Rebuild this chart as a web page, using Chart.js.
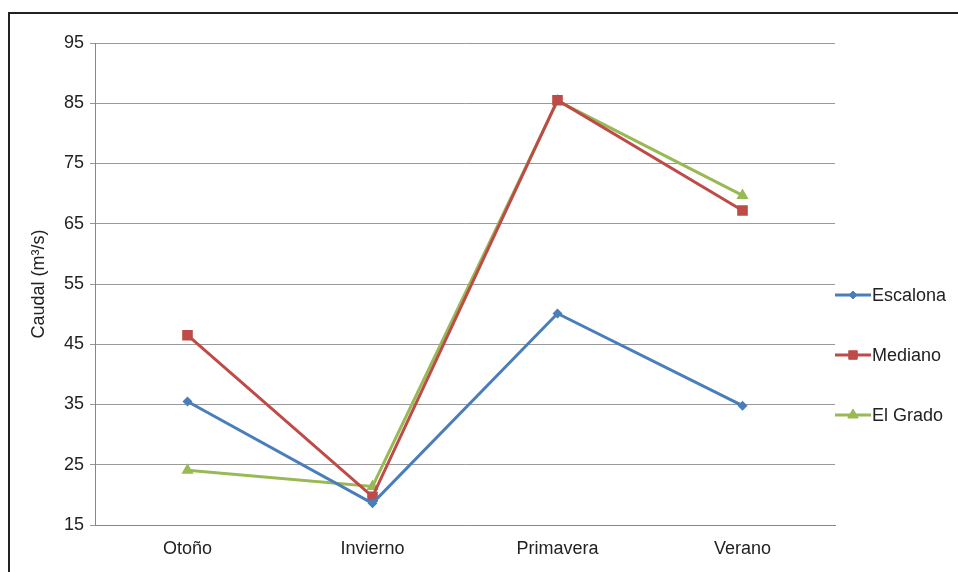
<!DOCTYPE html>
<html>
<head>
<meta charset="utf-8">
<script src="https://cdn.jsdelivr.net/npm/chart.js@4/dist/chart.umd.min.js"></script>
<style>
  html, body { margin: 0; padding: 0; background: #fff; }
  #wrap { position: relative; width: 958px; height: 572px; overflow: hidden; }
  #frame { position: absolute; left: 8px; top: 12px; width: 960px; height: 570px;
           border-left: 2px solid #222; border-top: 2px solid #222; box-sizing: border-box; }
  canvas { position: absolute; left: 0; top: 0; }
</style>
</head>
<body>
<div id="wrap">
  <div id="frame"></div>
  <canvas id="c" width="958" height="572"></canvas>
</div>
<script>
const categories = ['Otoño', 'Invierno', 'Primavera', 'Verano'];
const escalona = [35.5, 18.6, 50.1, 34.8];
const mediano = [46.5, 19.7, 85.5, 67.2];
const elGrado = [24.1, 21.4, 85.4, 69.7];
const yTicks = [15, 25, 35, 45, 55, 65, 75, 85, 95];
const seriesNames = ['Escalona', 'Mediano', 'El Grado'];

const FONT = '"Liberation Sans", Arial, Helvetica, sans-serif';

const legendRadii = [4, 6, 6];

const legendPlugin = {
  id: 'sideLegend',
  afterDraw(chart) {
    const ctx = chart.ctx;
    const area = chart.chartArea;
    const startY = 295, step = 60;
    chart.data.datasets.forEach((ds, i) => {
      const y = startY + i * step;
      const x0 = area.right, x1 = area.right + 36;
      ctx.save();
      ctx.strokeStyle = ds.borderColor;
      ctx.lineWidth = 3;
      ctx.beginPath(); ctx.moveTo(x0, y); ctx.lineTo(x1, y); ctx.stroke();
      ctx.fillStyle = ds.borderColor;
      ctx.lineWidth = 1;
      Chart.helpers.drawPoint(ctx, {
        pointStyle: ds.pointStyle, radius: legendRadii[i], rotation: 0, borderWidth: 1
      }, (x0 + x1) / 2, y);
      ctx.fillStyle = '#222';
      ctx.font = '18px ' + FONT;
      ctx.textBaseline = 'middle';
      ctx.textAlign = 'left';
      ctx.fillText(ds.label, x1 + 1, y + 1);
      ctx.restore();
    });
  }
};

const colors = ['#4a7ebb', '#be4b48', '#98b954'];
const styles = ['rectRot', 'rect', 'triangle'];
const radii = [5, 7.5, 7];
const values = [escalona, mediano, elGrado];

new Chart(document.getElementById('c'), {
  type: 'line',
  data: {
    labels: categories,
    datasets: seriesNames.map((name, i) => ({
      label: name,
      data: values[i],
      borderColor: colors[i],
      backgroundColor: colors[i],
      pointBackgroundColor: colors[i],
      pointBorderColor: colors[i],
      borderWidth: 3,
      pointStyle: styles[i],
      pointRadius: radii[i],
      pointBorderWidth: 0,
      tension: 0,
      fill: false
    }))
  },
  options: {
    responsive: false,
    animation: false,
    events: [],
    layout: { padding: { left: 24, right: 123, top: 43, bottom: 0 } },
    plugins: { legend: { display: false }, tooltip: { enabled: false } },
    scales: {
      x: {
        offset: true,
        grid: { display: false, drawTicks: false },
        border: { display: true, color: '#888', width: 1 },
        ticks: { color: '#222', font: { size: 18, family: FONT }, padding: 13, maxRotation: 0 },
        afterFit(scale) { scale.height = 47; }
      },
      y: {
        min: 15, max: 95,
        afterBuildTicks(scale) { scale.ticks = yTicks.map(v => ({ value: v })); },
        grid: { color: '#999', lineWidth: 1, tickLength: 5, drawTicks: true },
        border: { display: true, color: '#888', width: 1 },
        ticks: { color: '#222', font: { size: 18, family: FONT }, padding: 6 },
        title: { display: true, text: 'Caudal (m³/s)', color: '#222', font: { size: 18, family: FONT } },
        afterFit(scale) { scale.width = 71; }
      }
    }
  },
  plugins: [legendPlugin]
});
</script>
</body>
</html>
